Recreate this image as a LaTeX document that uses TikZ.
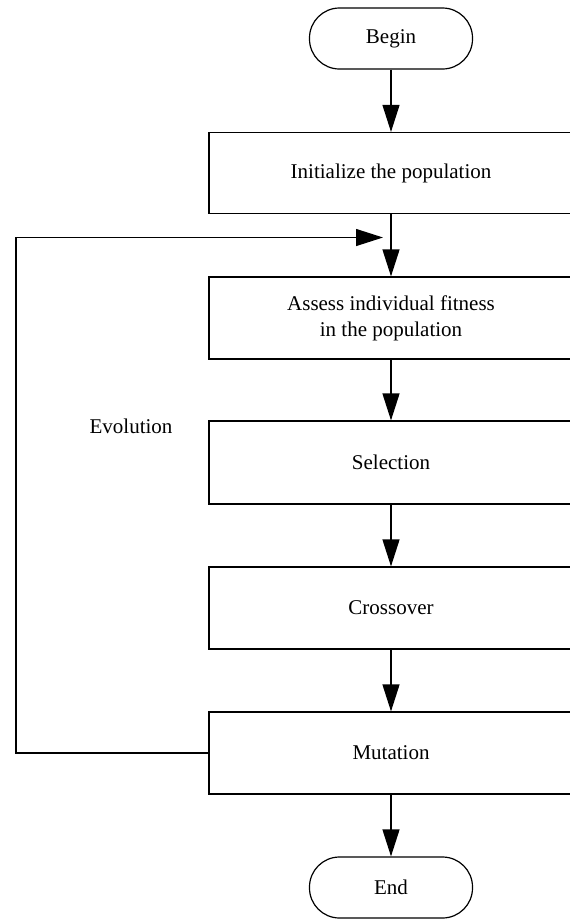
\documentclass[tikz,border=0pt]{standalone}
\usepackage{fontspec}
\setmainfont{Liberation Serif}
\usetikzlibrary{arrows.meta}
\begin{document}
\begin{tikzpicture}[x=1pt,y=-1pt,
  every node/.style={font=\fontsize{21}{26}\selectfont},
  term/.style={draw,line width=1.2pt,rounded corners=30pt,minimum width=163pt,minimum height=61pt,inner sep=0pt},
  proc/.style={draw,line width=1.2pt,minimum width=364pt,minimum height=81pt,inner sep=0pt,align=center},
  flow/.style={line width=1.2pt,-{Triangle[length=27pt,width=17pt]}},
  line/.style={line width=1.2pt}]
\useasboundingbox (0,0) rectangle (570,919);
\node[term] (begin) at (391,38.5) {Begin};
\node[proc] (init) at (391,173) {Initialize the population};
\node[proc,minimum height=82pt] (assess) at (391,318) {Assess individual fitness\\in the population};
\node[proc,minimum height=83pt] (sel) at (391,462.5) {Selection};
\node[proc,minimum height=82pt] (cross) at (391,608) {Crossover};
\node[proc,minimum height=82pt] (mut) at (391,753) {Mutation};
\node[term] (end) at (391,887.5) {End};
\node (evo) at (131,426) {Evolution};
\coordinate (fbtip) at (383,237.5);
\draw[flow] (begin) -- (init);
\draw[flow] (init) -- (assess);
\draw[flow] (assess) -- (sel);
\draw[flow] (sel) -- (cross);
\draw[flow] (cross) -- (mut);
\draw[flow] (mut) -- (end);
\draw[flow] (mut.west) -- (16,753) -- (16,237.5) -- (fbtip);
\end{tikzpicture}
\end{document}
